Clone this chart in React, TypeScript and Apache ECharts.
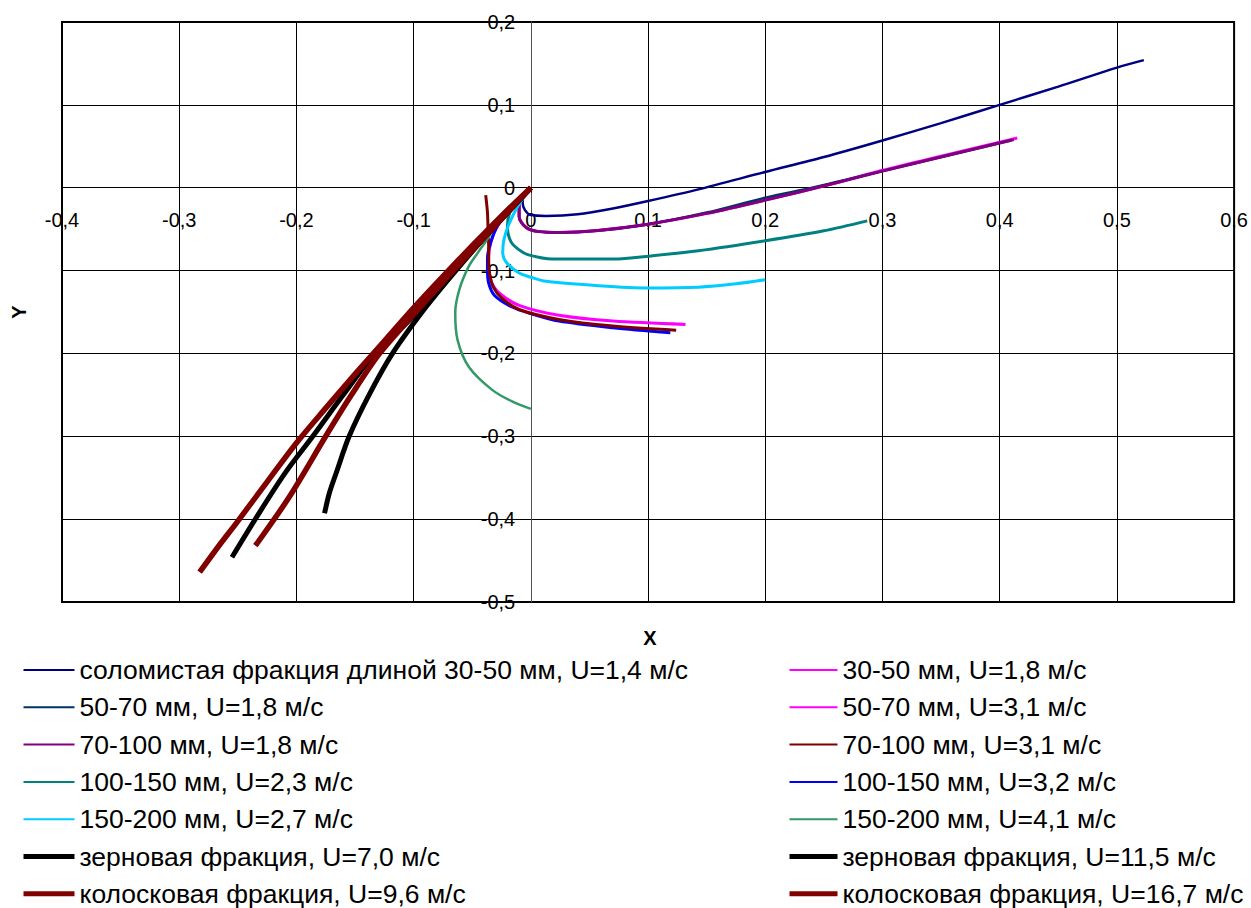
import React, { useEffect, useRef } from "react";
import * as echarts from "echarts";

const FONT = '"Liberation Sans", Arial, sans-serif';

// ---- data (x, y) ----
const xNavy = [0, -0.006, -0.007, -0.005, 0.0, 0.013, 0.04, 0.07, 0.1, 0.143, 0.2, 0.25, 0.3, 0.35, 0.4, 0.45, 0.5, 0.523];
const yNavy = [0, -0.009, -0.018, -0.027, -0.033, -0.034, -0.032, -0.025, -0.016, -0.002, 0.019, 0.037, 0.057, 0.078, 0.1, 0.122, 0.145, 0.154];

const x5070a = [0, -0.006, -0.01, -0.01, -0.004, 0.007, 0.025, 0.055, 0.1, 0.15, 0.2, 0.24, 0.27, 0.3, 0.35, 0.4, 0.41];
const y5070a = [0, -0.008, -0.02, -0.035, -0.048, -0.053, -0.054, -0.052, -0.044, -0.03, -0.012, 0.0, 0.01, 0.02, 0.037, 0.054, 0.057];

const x70100a = [0, -0.006, -0.01, -0.01, -0.004, 0.007, 0.025, 0.055, 0.1, 0.15, 0.2, 0.258, 0.3, 0.35, 0.4, 0.412];
const y70100a = [0, -0.008, -0.02, -0.035, -0.048, -0.053, -0.054, -0.052, -0.044, -0.031, -0.015, 0.005, 0.02, 0.037, 0.054, 0.058];

const x100150a = [0, -0.011, -0.018, -0.02, -0.017, -0.01, -0.002, 0.018, 0.07, 0.104, 0.143, 0.2, 0.25, 0.287];
const y100150a = [0, -0.015, -0.03, -0.047, -0.065, -0.075, -0.081, -0.086, -0.086, -0.082, -0.076, -0.064, -0.052, -0.04];

const x150200a = [0, -0.011, -0.019, -0.023, -0.024, -0.021, -0.01, 0.0, 0.013, 0.055, 0.1, 0.143, 0.175, 0.2];
const y150200a = [0, -0.022, -0.045, -0.063, -0.078, -0.09, -0.103, -0.108, -0.113, -0.118, -0.121, -0.12, -0.116, -0.111];

const x3050b = [0, -0.006, -0.01, -0.01, -0.004, 0.007, 0.025, 0.055, 0.1, 0.15, 0.2, 0.258, 0.3, 0.35, 0.4, 0.415];
const y3050b = [0, -0.008, -0.02, -0.035, -0.048, -0.053, -0.054, -0.052, -0.044, -0.031, -0.015, 0.005, 0.021, 0.038, 0.055, 0.06];

const x5070b = [0, -0.015, -0.028, -0.034, -0.036, -0.036, -0.034, -0.027, -0.01, 0.024, 0.07, 0.132];
const y5070b = [0, -0.022, -0.045, -0.065, -0.085, -0.098, -0.113, -0.127, -0.142, -0.154, -0.161, -0.165];

const x70100b = [-0.0385, -0.037, -0.0365, -0.036, -0.036, -0.035, -0.032, -0.025, -0.01, 0.024, 0.07, 0.124];
const y70100b = [-0.009, -0.03, -0.05, -0.07, -0.09, -0.105, -0.12, -0.133, -0.147, -0.159, -0.167, -0.172];

const x100150b = [0, -0.015, -0.028, -0.034, -0.037, -0.037, -0.036, -0.031, -0.016, 0.0, 0.024, 0.07, 0.119];
const y100150b = [0, -0.022, -0.045, -0.065, -0.085, -0.1, -0.115, -0.13, -0.144, -0.152, -0.161, -0.169, -0.175];

const x150200b = [0, -0.015, -0.03, -0.036, -0.045, -0.053, -0.061, -0.0645, -0.0625, -0.053, -0.033, -0.016, 0];
const y150200b = [0, -0.022, -0.045, -0.06, -0.078, -0.095, -0.123, -0.151, -0.184, -0.216, -0.244, -0.258, -0.267];

const xGrain7 = [0, -0.033, -0.064, -0.09, -0.118, -0.138, -0.155, -0.166, -0.172, -0.176];
const yGrain7 = [0, -0.05, -0.1, -0.145, -0.2, -0.25, -0.3, -0.344, -0.369, -0.393];

const xGrain11 = [0, -0.033, -0.066, -0.1, -0.133, -0.16, -0.186, -0.21, -0.232, -0.255];
const yGrain11 = [0, -0.05, -0.1, -0.155, -0.2, -0.25, -0.3, -0.345, -0.393, -0.446];

const xEar9 = [0, -0.033, -0.066, -0.098, -0.129, -0.153, -0.175, -0.206, -0.235];
const yEar9 = [0, -0.05, -0.1, -0.15, -0.2, -0.25, -0.3, -0.373, -0.432];

const xEar16 = [0, -0.025, -0.05, -0.075, -0.1, -0.125, -0.15, -0.175, -0.2, -0.225, -0.2514, -0.265, -0.2826];
const yEar16 = [0, -0.034, -0.07, -0.107, -0.145, -0.185, -0.225, -0.266, -0.308, -0.355, -0.405, -0.43, -0.464];

const xTicks = { min: -0.4, max: 0.6, step: 0.1 };
const yTicks = { min: -0.5, max: 0.2, step: 0.1 };

type S = { name: string; xs: number[]; ys: number[]; color: string; width: number; legendWidth: number };

const leftSeries: S[] = [
  { name: "соломистая фракция длиной 30-50 мм, U=1,4 м/с", xs: xNavy, ys: yNavy, color: "#000080", width: 2.5, legendWidth: 2 },
  { name: "50-70 мм, U=1,8 м/с", xs: x5070a, ys: y5070a, color: "#003366", width: 2.5, legendWidth: 2 },
  { name: "70-100 мм, U=1,8 м/с", xs: x70100a, ys: y70100a, color: "#800080", width: 3, legendWidth: 2 },
  { name: "100-150 мм, U=2,3 м/с", xs: x100150a, ys: y100150a, color: "#008080", width: 3, legendWidth: 2 },
  { name: "150-200 мм, U=2,7 м/с", xs: x150200a, ys: y150200a, color: "#00CCFF", width: 3, legendWidth: 2 },
  { name: "зерновая фракция, U=7,0 м/с", xs: xGrain7, ys: yGrain7, color: "#000000", width: 5, legendWidth: 5 },
  { name: "колосковая фракция, U=9,6 м/с", xs: xEar9, ys: yEar9, color: "#800000", width: 5.5, legendWidth: 5 },
];

const rightSeries: S[] = [
  { name: "30-50 мм, U=1,8 м/с", xs: x3050b, ys: y3050b, color: "#FF00FF", width: 3, legendWidth: 2 },
  { name: "50-70 мм, U=3,1 м/с", xs: x5070b, ys: y5070b, color: "#FF00FF", width: 3, legendWidth: 2 },
  { name: "70-100 мм, U=3,1 м/с", xs: x70100b, ys: y70100b, color: "#800000", width: 3, legendWidth: 2 },
  { name: "100-150 мм, U=3,2 м/с", xs: x100150b, ys: y100150b, color: "#0000FF", width: 3, legendWidth: 2 },
  { name: "150-200 мм, U=4,1 м/с", xs: x150200b, ys: y150200b, color: "#339966", width: 2.5, legendWidth: 2 },
  { name: "зерновая фракция, U=11,5 м/с", xs: xGrain11, ys: yGrain11, color: "#000000", width: 5, legendWidth: 5 },
  { name: "колосковая фракция, U=16,7 м/с", xs: xEar16, ys: yEar16, color: "#800000", width: 5.5, legendWidth: 5 },
];

// drawing order: thin first, magenta under purple, thick last
const drawOrder: string[] = [
  "30-50 мм, U=1,8 м/с",
  "50-70 мм, U=1,8 м/с",
  "70-100 мм, U=1,8 м/с",
  "соломистая фракция длиной 30-50 мм, U=1,4 м/с",
  "100-150 мм, U=2,3 м/с",
  "150-200 мм, U=2,7 м/с",
  "50-70 мм, U=3,1 м/с",
  "100-150 мм, U=3,2 м/с",
  "70-100 мм, U=3,1 м/с",
  "150-200 мм, U=4,1 м/с",
  "зерновая фракция, U=7,0 м/с",
  "зерновая фракция, U=11,5 м/с",
  "колосковая фракция, U=9,6 м/с",
  "колосковая фракция, U=16,7 м/с",
];

const fmt = (v: number) => {
  const r = Math.round(v * 10) / 10;
  if (r === 0) return "0";
  return String(r).replace(".", ",");
};

const GRID = { left: 62, top: 22, width: 1173, height: 580 };

export default function App() {
  const ref = useRef<HTMLDivElement>(null);
  useEffect(() => {
    document.body.style.margin = "0";
    if (!ref.current) return;
    const chart = echarts.init(ref.current, undefined, { renderer: "svg" });
    const all = [...leftSeries, ...rightSeries];
    const byName: Record<string, S> = {};
    all.forEach((s) => (byName[s.name] = s));
    const series = drawOrder.map((n) => {
      const s = byName[n];
      return {
        name: s.name,
        type: "line",
        data: s.xs.map((x, i) => [x, s.ys[i]]),
        smooth: 0.3,
        symbol: "none",
        showSymbol: false,
        lineStyle: { color: s.color, width: s.width },
        itemStyle: { color: s.color },
        emphasis: { disabled: true },
      };
    });
    const legendCommon = {
      orient: "vertical",
      top: 655,
      height: 320,
      padding: 0,
      itemHeight: 14,
      itemGap: 7.3,
      selectedMode: false,
      itemStyle: { opacity: 0 },
      textStyle: { fontFamily: FONT, fontSize: 26.5, color: "#000", lineHeight: 30 },
    };
    const mkLegend = (arr: S[], left: number, itemWidth: number) => ({
      ...legendCommon,
      left,
      itemWidth,
      data: arr.map((s) => ({
        name: s.name,
        itemStyle: { opacity: 0 },
        lineStyle: { width: s.legendWidth, color: s.color, opacity: 1 },
      })),
    });
    // offsets that bring the axes onto the zero lines
    const xZeroPx = GRID.left + ((0 - xTicks.min) / (xTicks.max - xTicks.min)) * GRID.width;
    const yZeroPx = GRID.top + ((yTicks.max - 0) / (yTicks.max - yTicks.min)) * GRID.height;
    const xAxisOffset = -(GRID.top + GRID.height - yZeroPx);
    const yAxisOffset = -(xZeroPx - GRID.left);
    chart.setOption({
      animation: false,
      backgroundColor: "#fff",
      grid: { ...GRID, show: true, borderColor: "#000", borderWidth: 2, backgroundColor: "transparent" },
      xAxis: {
        type: "value",
        position: "bottom",
        offset: xAxisOffset,
        min: xTicks.min,
        max: xTicks.max,
        interval: xTicks.step,
        axisLine: { onZero: false, lineStyle: { color: "#000", width: 1 } },
        axisTick: { show: true, length: 5, lineStyle: { color: "#000" } },
        axisLabel: { formatter: fmt, fontFamily: FONT, fontSize: 20, color: "#000", margin: 22, showMinLabel: true, showMaxLabel: true },
        splitLine: { show: true, lineStyle: { color: "#000", width: 1 } },
      },
      yAxis: {
        type: "value",
        position: "left",
        offset: yAxisOffset,
        min: yTicks.min,
        max: yTicks.max,
        interval: yTicks.step,
        axisLine: { onZero: false, lineStyle: { color: "#555", width: 1 } },
        axisTick: { show: true, length: 5, lineStyle: { color: "#000" } },
        axisLabel: { formatter: fmt, fontFamily: FONT, fontSize: 20, color: "#000", margin: 16, showMinLabel: true, showMaxLabel: true },
        splitLine: { show: true, lineStyle: { color: "#000", width: 1 } },
      },
      legend: [mkLegend(leftSeries, 21, 51), mkLegend(rightSeries, 787, 48)],
      graphic: [
        { type: "text", x: 650, y: 638, style: { text: "X", font: `bold 20px ${FONT}`, fill: "#000", align: "center", verticalAlign: "middle" } },
        { type: "text", x: 19, y: 312, rotation: Math.PI / 2, style: { text: "Y", font: `bold 20px ${FONT}`, fill: "#000", align: "center", verticalAlign: "middle" } },
      ],
      series,
    });
    return () => chart.dispose();
  }, []);
  return <div ref={ref} style={{ width: 1251, height: 908 }} />;
}
